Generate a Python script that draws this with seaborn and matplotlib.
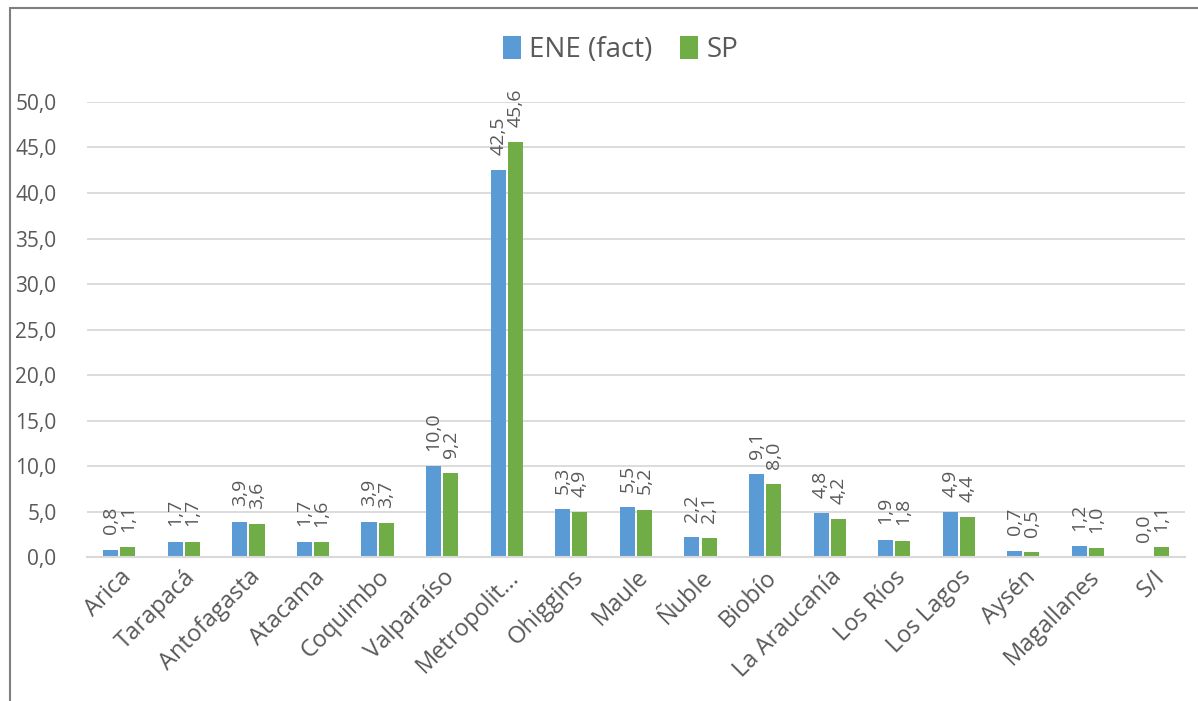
import pandas as pd
import seaborn as sns
import matplotlib.pyplot as plt
from matplotlib.patches import Rectangle
from matplotlib.ticker import FuncFormatter

regions = ["Arica", "Tarapacá", "Antofagasta", "Atacama", "Coquimbo", "Valparaíso",
           "Metropolit...", "Ohiggins", "Maule", "Ñuble", "Biobío", "La Araucanía",
           "Los Ríos", "Los Lagos", "Aysén", "Magallanes", "S/I"]
ene = [0.8, 1.7, 3.9, 1.7, 3.9, 10.0, 42.5, 5.3, 5.5, 2.2, 9.1, 4.8, 1.9, 4.9, 0.7, 1.2, 0.0]
sp = [1.1, 1.7, 3.6, 1.6, 3.7, 9.2, 45.6, 4.9, 5.2, 2.1, 8.0, 4.2, 1.8, 4.4, 0.5, 1.0, 1.1]
series = ["ENE (fact)", "SP"]
colors = ["#5B9BD5", "#70AD47"]

df = pd.DataFrame({
    "Region": regions * 2,
    "Serie": [series[0]] * len(regions) + [series[1]] * len(regions),
    "Valor": ene + sp,
})

sns.set_style("white")
plt.rcParams["font.family"] = ["Open Sans", "DejaVu Sans"]
text_color = "#595959"

fig = plt.figure(figsize=(11.98, 7.01), dpi=100)
ax = fig.add_axes([0.0726, 0.2054, 0.9164, 0.6491])

# chart frame
fig.patches.append(Rectangle((0.0083, -0.01), 1.0, 0.9986, transform=fig.transFigure,
                             fill=False, edgecolor="#7F7F7F", linewidth=1.5))

sns.barplot(data=df, x="Region", y="Valor", hue="Serie", hue_order=series,
            palette=colors, saturation=1, width=0.53, gap=0.12, ax=ax, legend=True,
            edgecolor="none")

for cont, vals in zip(ax.containers, [ene, sp]):
    ax.bar_label(cont, labels=[f"{v:.1f}".replace(".", ",") for v in vals],
                 rotation=90, padding=11, fontsize=14, color=text_color)

ax.set_ylim(0, 50)
ax.set_yticks(range(0, 51, 5))
ax.yaxis.set_major_formatter(FuncFormatter(lambda v, p: f"{v:.1f}".replace(".", ",")))
ax.set_xlim(-0.5, len(regions) - 0.5)
ax.grid(axis="y", color="#D9D9D9", linewidth=1.3)
ax.set_axisbelow(True)
for s in ["top", "right", "left"]:
    ax.spines[s].set_visible(False)
ax.spines["bottom"].set_color("#D9D9D9")
ax.spines["bottom"].set_linewidth(1.5)
ax.set_xlabel("")
ax.set_ylabel("")
ax.tick_params(axis="y", labelsize=15, labelcolor=text_color, length=0, pad=22)
ax.tick_params(axis="x", labelsize=17, labelcolor=text_color, length=0, pad=6)
plt.setp(ax.get_xticklabels(), rotation=45, ha="right", rotation_mode="anchor")

ax.legend(loc="center", bbox_to_anchor=(0.518, 0.929), bbox_transform=fig.transFigure,
          ncol=2, frameon=False, fontsize=20, handlelength=0.65, handleheight=0.9,
          handletextpad=0.3, columnspacing=1.0, labelcolor=text_color)

plt.savefig("out.png", dpi=100)
